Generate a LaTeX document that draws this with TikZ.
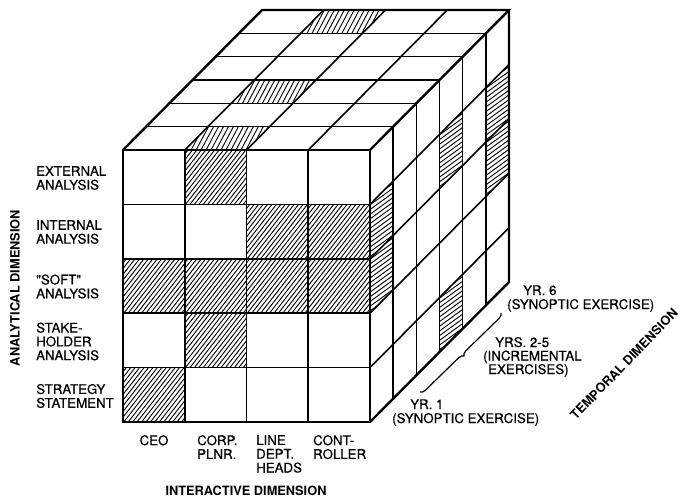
\documentclass[tikz,border=0pt]{standalone}
\usepackage{fontspec}
\setmainfont{TeX Gyre Heros}
\newfontfamily\labfont{TeX Gyre Heros}[FakeBold=0.5]
\usetikzlibrary{decorations.pathreplacing}
% point on the cube: column boundary i (0..4), row boundary j (0..5), depth k (0..6)
\pgfkeys{/cubecs/.cd, i/.store in=\cubei, j/.store in=\cubej, k/.store in=\cubek}
\tikzdeclarecoordinatesystem{q}{%
  \pgfkeys{/cubecs/.cd,i=0,j=0,k=0,#1}%
  \pgfmathsetmacro\cubex{123+61.75*(\cubei)+23.17*(\cubek)}%
  \pgfmathsetmacro\cubey{150+54.4*(\cubej)-23.33*(\cubek)}%
  \pgfpointxy{\cubex}{\cubey}}
\newcommand\hatchit[3]{%
  \begin{scope}[shift={#1}]
  \foreach \k in {-18,...,18}{%
    \draw[hatchline] ({\k*#3*sin(#2)-70*cos(#2)},{\k*#3*cos(#2)+70*sin(#2)}) -- ({\k*#3*sin(#2)+70*cos(#2)},{\k*#3*cos(#2)-70*sin(#2)});
  }
  \end{scope}}
\newcommand\fronthatch[2]{%
  \begin{scope}
  \clip (q cs:i=#1,j=#2) -- (q cs:i=#1+1,j=#2) -- (q cs:i=#1+1,j=#2+1) -- (q cs:i=#1,j=#2+1) -- cycle;
  \hatchit{(q cs:i=#1+0.5,j=#2+0.5)}{52}{3.5}
  \end{scope}}
\newcommand\tophatch[2]{% column, slice
  \begin{scope}
  \clip (q cs:i=#1,k=#2) -- (q cs:i=#1+1,k=#2) -- (q cs:i=#1+1,k=#2+1) -- (q cs:i=#1,k=#2+1) -- cycle;
  \hatchit{(q cs:i=#1+0.5,k=#2+0.5)}{62}{4.4}
  \end{scope}}
\newcommand\sidehatch[2]{% slice, row
  \begin{scope}
  \clip (q cs:i=4,j=#2,k=#1) -- (q cs:i=4,j=#2,k=#1+1) -- (q cs:i=4,j=#2+1,k=#1+1) -- (q cs:i=4,j=#2+1,k=#1) -- cycle;
  \hatchit{(q cs:i=4,j=#2+0.5,k=#1+0.5)}{36}{3.8}
  \end{scope}}
\tikzset{
  hatchline/.style={line width=0.9pt},
  inner/.style={line width=1.6pt},
  outer/.style={line width=2.4pt, line join=miter},
  lab/.style={font=\labfont\fontsize{13.3}{13.8}\selectfont, inner sep=0pt, align=left},
  dimtitle/.style={font=\bfseries\fontsize{12.8}{13.5}\selectfont, inner sep=0pt},
}
\begin{document}
\begin{tikzpicture}[x=1pt,y=-1pt]
\useasboundingbox (0,0) rectangle (681,501);
\fill[white] (0,0) rectangle (681,501);
% hatched cells, front face
\fronthatch{1}{0}
\fronthatch{2}{1}\fronthatch{3}{1}
\fronthatch{0}{2}\fronthatch{1}{2}\fronthatch{2}{2}\fronthatch{3}{2}
\fronthatch{1}{3}
\fronthatch{0}{4}
% top face
\tophatch{1}{0}\tophatch{1}{2}\tophatch{1}{5}
% right face
\sidehatch{0}{1}\sidehatch{0}{2}
\sidehatch{3}{1}\sidehatch{3}{4}
\sidehatch{5}{1}\sidehatch{5}{2}
% inner grid lines
\foreach \i in {1,2,3}{
  \draw[inner] (q cs:i=\i,j=0) -- (q cs:i=\i,j=5);
  \draw[inner] (q cs:i=\i,k=0) -- (q cs:i=\i,k=6);
}
\foreach \j in {1,2,3,4}{
  \draw[inner] (q cs:i=0,j=\j) -- (q cs:i=4,j=\j);
  \draw[inner] (q cs:i=4,j=\j,k=0) -- (q cs:i=4,j=\j,k=6);
}
\foreach \kk in {1,...,5}{
  \draw[inner] (q cs:i=0,k=\kk) -- (q cs:i=4,k=\kk);
  \draw[inner] (q cs:i=4,j=0,k=\kk) -- (q cs:i=4,j=5,k=\kk);
}
% outer edges
\draw[outer] (q cs:i=0,j=0) -- (q cs:i=4,j=0) -- (q cs:i=4,j=5) -- (q cs:i=0,j=5) -- cycle;
\draw[outer] (q cs:i=0,k=0) -- (q cs:i=0,k=6) -- (q cs:i=4,k=6) -- (q cs:i=4,k=0);
\draw[outer] (q cs:i=4,j=0,k=6) -- (q cs:i=4,j=5,k=6) -- (q cs:i=4,j=5,k=0);
% left labels
\node[lab,anchor=west] (ext) at (36,178) {EXTERNAL\\ANALYSIS};
\node[lab,anchor=west] (int) at (36,232) {INTERNAL\\ANALYSIS};
\node[lab,anchor=west] (soft) at (36,286.5) {"SOFT"\\ANALYSIS};
\node[lab,anchor=west] (stake) at (36,341.5) {STAKE-\\HOLDER\\ANALYSIS};
\node[lab,anchor=west] (strat) at (36,396) {STRATEGY\\STATEMENT};
\node[dimtitle,rotate=90] (anal) at (15,288) {ANALYTICAL DIMENSION};
% bottom labels
\node[lab,anchor=north] (ceo) at (154,435) {CEO};
\node[lab,anchor=north west] (corp) at (197,435) {CORP.\\PLNR.};
\node[lab,anchor=north west] (line) at (256,435) {LINE\\DEPT.\\HEADS};
\node[lab,anchor=north west] (cont) at (313,435) {CONT-\\ROLLER};
\node[dimtitle] (inter) at (246,491) {INTERACTIVE DIMENSION};
% temporal labels
\node[lab,anchor=base west] (y6) at (523,295) {YR. 6};
\node[lab,anchor=base west] (y6b) at (507,309) {(SYNOPTIC EXERCISE)};
\node[lab,anchor=base west] (y25) at (495,347) {YRS. 2-5};
\node[lab,anchor=base west] (y25b) at (483,360.5) {(INCREMENTAL};
\node[lab,anchor=base west] (y25c) at (488,374) {EXERCISES)};
\node[lab,anchor=base west] (y1) at (410,409) {YR. 1};
\node[lab,anchor=base west] (y1b) at (392,423) {(SYNOPTIC EXERCISE)};
\node[dimtitle,rotate=46] (temp) at (624,364) {TEMPORAL DIMENSION};
% brace
\coordinate (bA) at (420,392);
\coordinate (bB) at (501,313);
\draw[line width=1.2pt,decorate,decoration={brace,amplitude=5pt}] (bB) -- (bA);
\end{tikzpicture}
\end{document}
